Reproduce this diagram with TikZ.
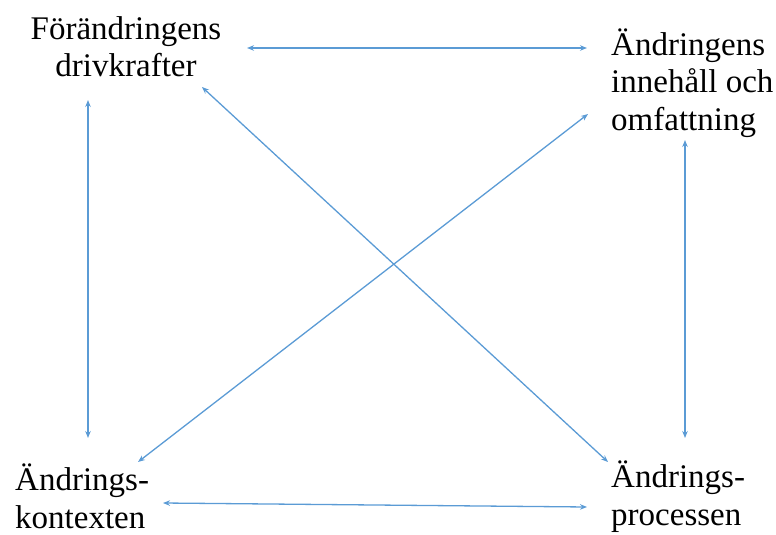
\documentclass[tikz,border=0pt]{standalone}
\usepackage{fontspec}
\setmainfont{Liberation Serif}
\usetikzlibrary{arrows.meta}
\definecolor{arrowblue}{HTML}{5B9BD5}
\begin{document}
\begin{tikzpicture}[x=1pt,y=1pt,
  lbl/.style={inner sep=0pt,font=\fontsize{33}{37.5}\selectfont},
  link/.style={draw=arrowblue,line width=1.3pt,{Stealth[length=7pt,width=5.5pt]}-{Stealth[length=7pt,width=5.5pt]}}]
\useasboundingbox (0,0) rectangle (776,-535);
\node[lbl,align=center,anchor=base] (drv) at (126,-77) {Förändringens\\drivkrafter};
\node[lbl,align=left,anchor=base west] (inn) at (611,-130) {Ändringens\\innehåll och\\omfattning};
\node[lbl,align=left,anchor=base west] (ktx) at (15,-528) {Ändrings-\\kontexten};
\node[lbl,align=left,anchor=base west] (prc) at (611,-525) {Ändrings-\\processen};
\coordinate (t1) at (247,-48);  \coordinate (t2) at (587,-48);
\coordinate (l1) at (88,-100);  \coordinate (l2) at (88,-438);
\coordinate (r1) at (685,-140); \coordinate (r2) at (685,-438);
\coordinate (b1) at (163,-503); \coordinate (b2) at (587,-507);
\coordinate (d1) at (202,-87);  \coordinate (d2) at (608,-462);
\coordinate (e1) at (588,-114); \coordinate (e2) at (138,-462);
\draw[link] (t1) -- (t2);
\draw[link] (l1) -- (l2);
\draw[link] (r1) -- (r2);
\draw[link] (b1) -- (b2);
\draw[link] (d1) -- (d2);
\draw[link] (e1) -- (e2);
\end{tikzpicture}
\end{document}
